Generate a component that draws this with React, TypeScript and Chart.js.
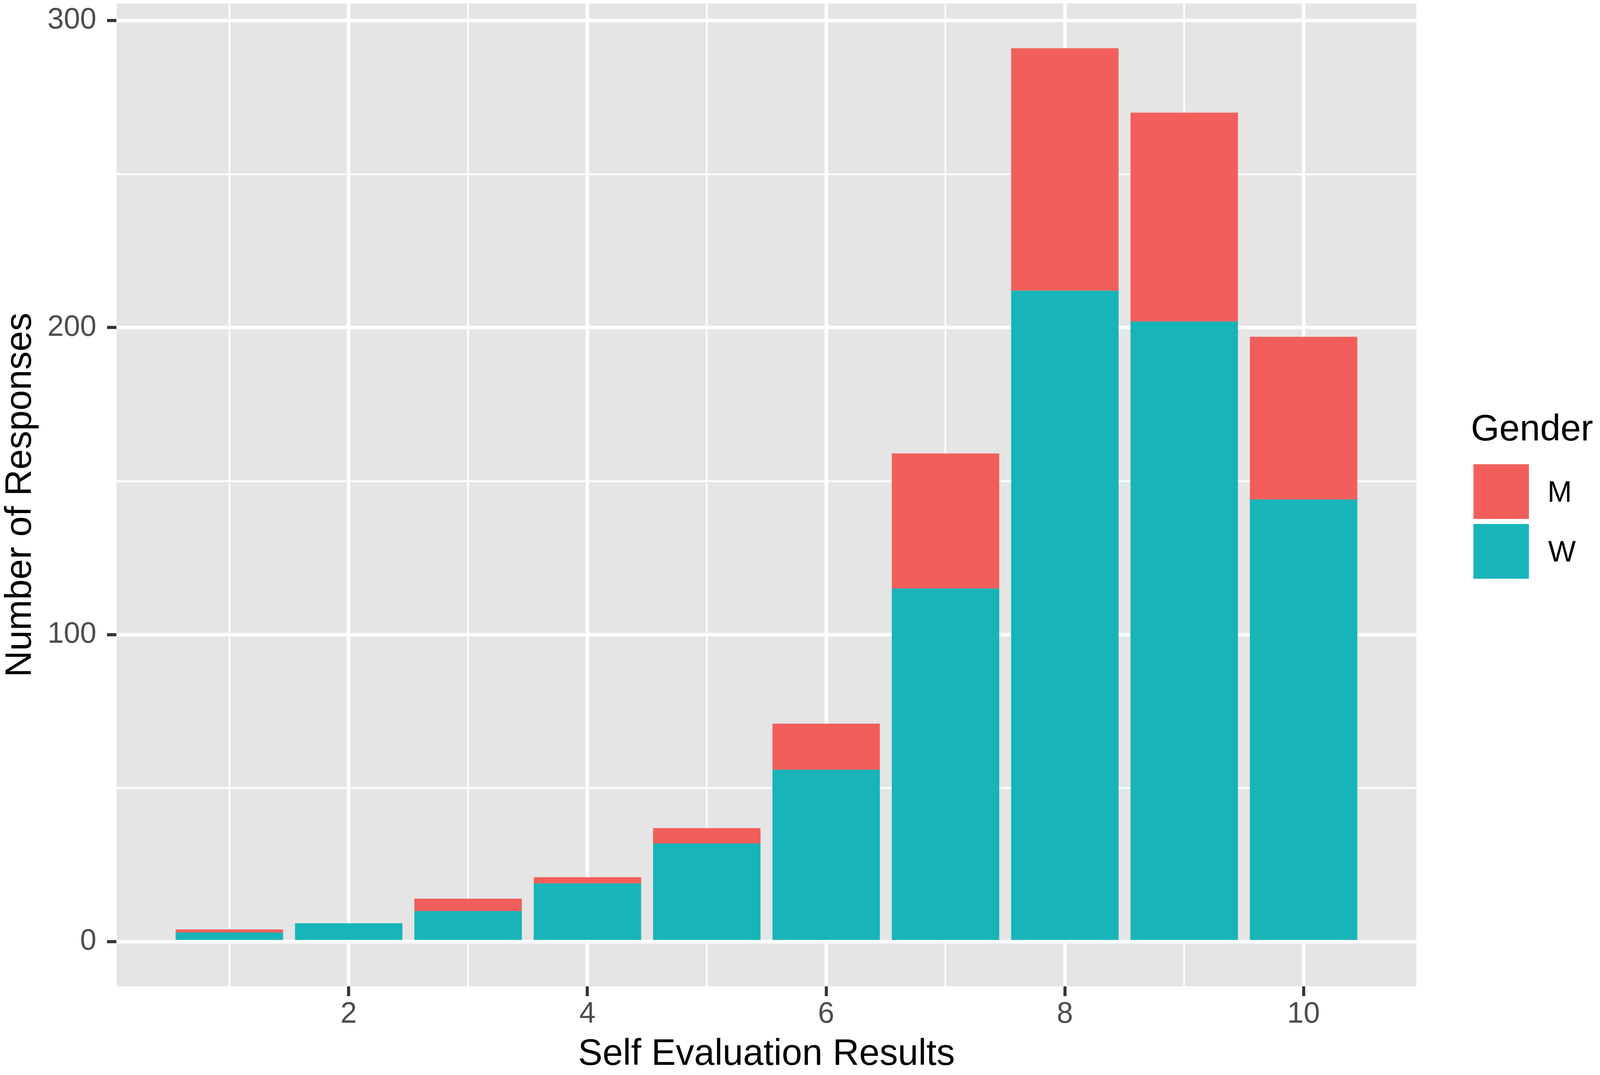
import { useEffect, useRef } from 'react'
import { Chart, registerables } from 'chart.js'

Chart.register(...registerables)

// self evaluation score (x) and counts per gender
const scores = [1, 2, 3, 4, 5, 6, 7, 8, 9, 10]
const womenCounts = [3, 6, 10, 19, 32, 56, 115, 212, 202, 144]
const menCounts = [1, 0, 4, 2, 5, 15, 44, 79, 68, 53]

const xLabelled = [2, 4, 6, 8, 10]
const yGrid = [0, 50, 100, 150, 200, 250, 300]
const yLabelled = [0, 100, 200, 300]

const legendTitle = 'Gender'
const legendLabels = ['M', 'W']

const RED = '#F25F5B'
const TEAL = '#17B4B8'
const PANEL = '#E5E5E5'
const FONT = '"Liberation Sans", Arial, Helvetica, sans-serif'

// the figure was measured on a 4200x2753 canvas; the page may be a bit narrower
const REF_W = 4200
const REF_H = 2753
function getScale() {
  const w = window.innerWidth || REF_W
  const h = window.innerHeight || REF_H
  const sx = Math.min(w, REF_W) / REF_W
  const sy = Math.min(h, REF_H) / REF_H
  return { w: REF_W * sx, h: REF_H * sy, sx, sy, sf: (sx + sy) / 2 }
}

const panelBackground = {
  id: 'panelBackground',
  beforeDraw(chart: Chart) {
    const { ctx, chartArea: a } = chart
    ctx.save()
    ctx.fillStyle = PANEL
    ctx.fillRect(a.left, a.top, a.right - a.left, a.bottom - a.top)
    ctx.restore()
  },
}

function BarChart() {
  const canvasRef = useRef<HTMLCanvasElement>(null)
  const chartRef = useRef<Chart | null>(null)

  useEffect(() => {
    const canvas = canvasRef.current
    if (!canvas) return
    if (chartRef.current) {
      chartRef.current.destroy()
      chartRef.current = null
    }

    const { sx, sy, sf } = getScale()
    // ggplot style 5% expansion around the data
    const top = Math.max(...scores.map((_, i) => womenCounts[i] + menCounts[i]))

    chartRef.current = new Chart(canvas, {
      type: 'bar',
      data: {
        datasets: [
          {
            label: legendLabels[1],
            data: scores.map((s, i) => ({ x: s, y: womenCounts[i] })),
            backgroundColor: TEAL,
            borderWidth: 0,
          },
          {
            label: legendLabels[0],
            data: scores.map((s, i) => ({ x: s, y: menCounts[i] })),
            backgroundColor: RED,
            borderWidth: 0,
          },
        ],
      },
      options: {
        animation: false,
        responsive: true,
        maintainAspectRatio: false,
        devicePixelRatio: 1,
        categoryPercentage: 0.9,
        barPercentage: 1,
        layout: { padding: { top: 9 * sy, right: 482 * sx, bottom: 0, left: 0 } },
        plugins: {
          legend: { display: false },
          tooltip: { enabled: false },
        },
        scales: {
          x: {
            type: 'linear',
            stacked: true,
            min: 0.055,
            max: 10.945,
            offset: false,
            afterBuildTicks: (axis) => {
              axis.ticks = scores.map(v => ({ value: v }))
            },
            afterFit: (axis) => {
              axis.height = 227 * sy
              axis.paddingLeft = 0
              axis.paddingRight = 0
            },
            border: { display: false },
            grid: {
              offset: false,
              color: '#FFFFFF',
              lineWidth: (c) => (xLabelled.includes(c.tick?.value) ? 9 * sx : 4.5 * sx),
              tickColor: (c) => (xLabelled.includes(c.tick?.value) ? '#333333' : 'rgba(0,0,0,0)'),
              tickWidth: 8 * sx,
              tickLength: 25 * sy,
            },
            ticks: {
              autoSkip: false,
              maxRotation: 0,
              padding: 2 * sy,
              color: '#4D4D4D',
              font: { family: FONT, size: 76 * sf },
              callback: (v) => (xLabelled.includes(Number(v)) ? String(v) : ''),
            },
            title: {
              display: true,
              text: 'Self Evaluation Results',
              color: '#000000',
              font: { family: FONT, size: 95 * sf, lineHeight: 1.1 },
              padding: { top: 0, bottom: 0 },
            },
          },
          y: {
            stacked: true,
            min: -0.05 * top,
            max: 1.05 * top,
            afterBuildTicks: (axis) => {
              axis.ticks = yGrid.map(v => ({ value: v }))
            },
            afterFit: (axis) => {
              axis.width = 306 * sx
              axis.paddingTop = 0
              axis.paddingBottom = 0
            },
            border: { display: false },
            grid: {
              color: '#FFFFFF',
              lineWidth: (c) => (yLabelled.includes(c.tick?.value) ? 9 * sy : 4.5 * sy),
              tickColor: (c) => (yLabelled.includes(c.tick?.value) ? '#333333' : 'rgba(0,0,0,0)'),
              tickWidth: 8 * sy,
              tickLength: 25 * sx,
            },
            ticks: {
              padding: 28 * sx,
              color: '#4D4D4D',
              font: { family: FONT, size: 76 * sf },
              callback: (v) => (yLabelled.includes(Number(v)) ? String(v) : ''),
            },
            title: {
              display: true,
              text: 'Number of Responses',
              color: '#000000',
              font: { family: FONT, size: 95 * sf, lineHeight: 1.1 },
              padding: { top: 2 * sx, bottom: 0 },
            },
          },
        },
      },
      plugins: [panelBackground],
    })

    return () => {
      if (chartRef.current) {
        chartRef.current.destroy()
        chartRef.current = null
      }
    }
  }, [])

  return <canvas ref={canvasRef} />
}

function Legend() {
  const { sx, sy, sf } = getScale()
  const text = { position: 'absolute' as const, fontFamily: FONT, lineHeight: 1, color: '#000', whiteSpace: 'nowrap' as const }
  const key = { position: 'absolute' as const, left: 3868 * sx, width: 145 * sx, height: 140 * sy }
  return (
    <>
      <div style={{ ...text, left: 3861 * sx, top: 1128 * sy - 0.8465 * 95 * sf, fontSize: 95 * sf }}>{legendTitle}</div>
      <div style={{ ...key, top: 1189 * sy, background: RED }} />
      <div style={{ ...key, top: 1342 * sy, background: TEAL }} />
      <div style={{ ...text, left: 4062 * sx, top: 1286 * sy - 0.8465 * 76 * sf, fontSize: 76 * sf }}>{legendLabels[0]}</div>
      <div style={{ ...text, left: 4064 * sx, top: 1439 * sy - 0.8465 * 76 * sf, fontSize: 76 * sf }}>{legendLabels[1]}</div>
    </>
  )
}

export default function App() {
  const { w, h } = getScale()
  return (
    <div style={{ position: 'fixed', left: 0, top: 0, width: w, height: h, background: '#FFFFFF' }}>
      <div style={{ position: 'absolute', inset: 0 }}>
        <BarChart />
      </div>
      <Legend />
    </div>
  )
}
